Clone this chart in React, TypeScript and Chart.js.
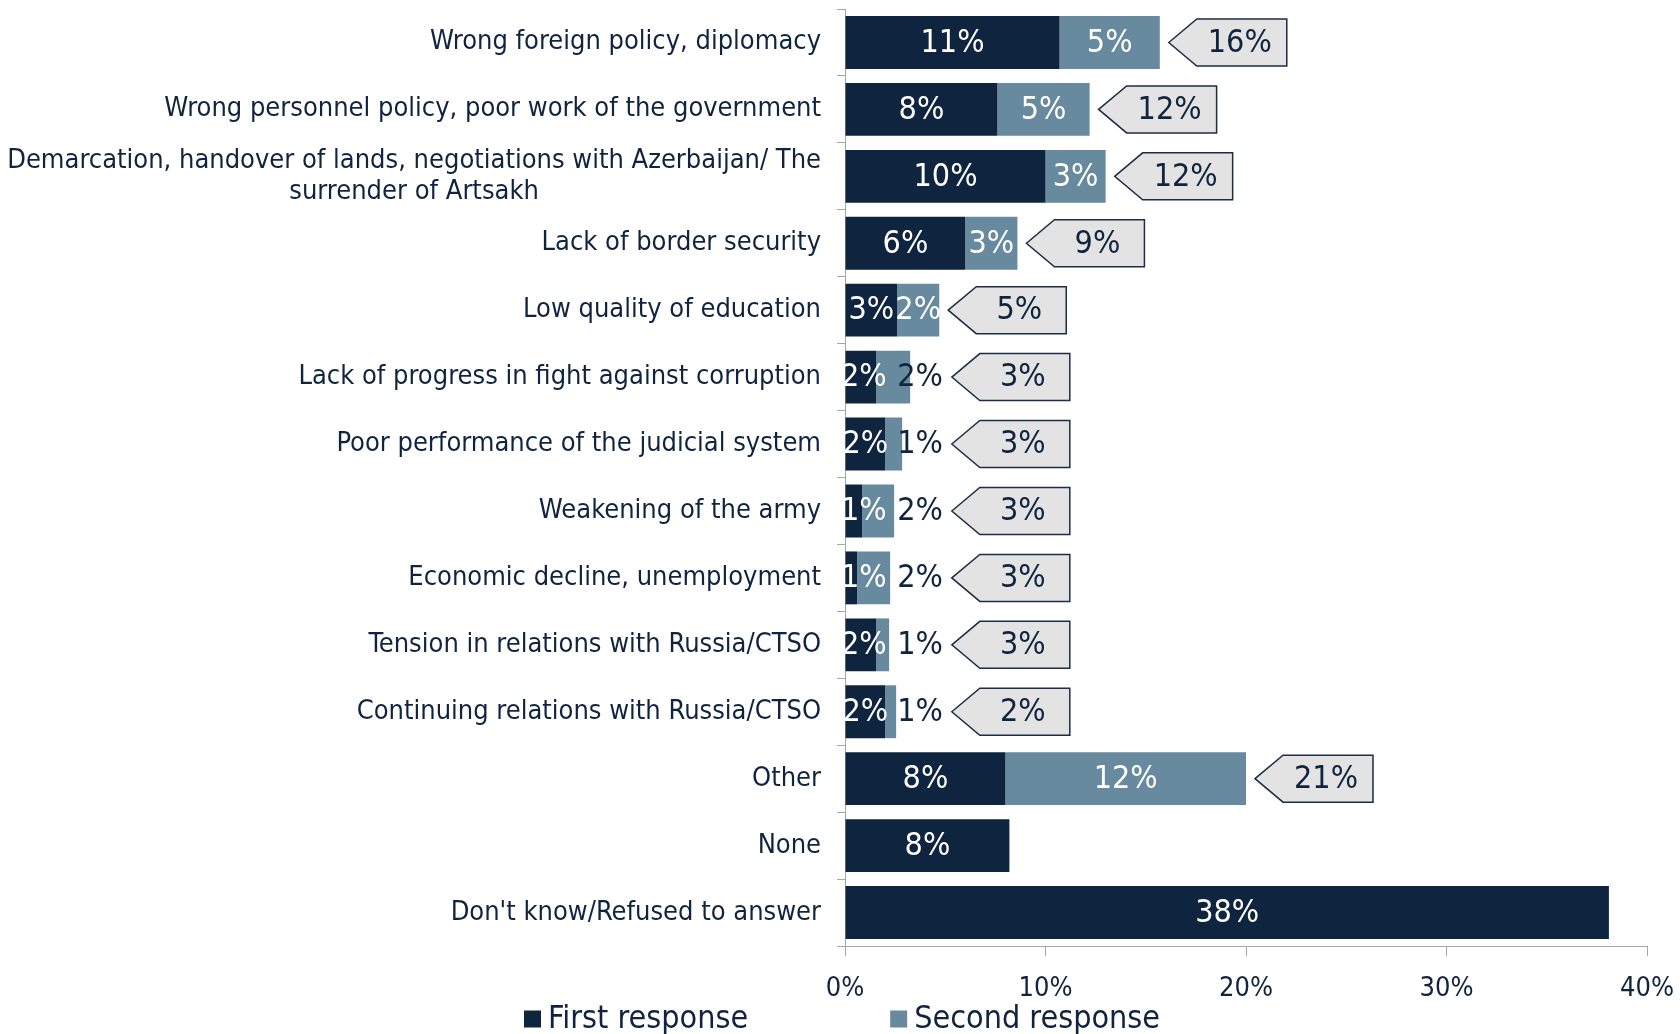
import React, { useEffect, useRef } from "react";
import { Chart, registerables } from "chart.js";

Chart.register(...registerables);

const categories: (string | string[])[] = [
  "Wrong foreign policy, diplomacy",
  "Wrong personnel policy, poor work of the government",
  ["Demarcation, handover of lands, negotiations with Azerbaijan/ The", "surrender of Artsakh"],
  "Lack of border security",
  "Low quality of education",
  "Lack of progress in fight against corruption",
  "Poor performance of the judicial system",
  "Weakening of the army",
  "Economic decline, unemployment",
  "Tension in relations with Russia/CTSO",
  "Continuing relations with Russia/CTSO",
  "Other",
  "None",
  "Don't know/Refused to answer",
];

const firstResponse = [10.7, 7.6, 10.0, 6.0, 2.6, 1.55, 2.0, 0.85, 0.6, 1.55, 2.0, 8.0, 8.2, 38.1];
const secondResponse = [5.0, 4.6, 3.0, 2.6, 2.1, 1.7, 0.85, 1.6, 1.65, 0.65, 0.55, 12.0, 0, 0];
const mentionedTotal: (number | null)[] = [16, 12, 12, 9, 5, 3, 3, 3, 3, 3, 2, 21, null, null];

const seriesNames = ["First response", "Second response"];
const axisMin = 0;
const axisMax = 40;
const axisStep = 10;

const FONT = '"DejaVu Sans Condensed", "DejaVu Sans", sans-serif';
const NAVY = "#0f243e";
const STEEL = "#678a9e";
const TEXT = "#10243f";
const AXIS = "#a6a6a6";

const pct = (v: number) => `${Math.round(v)}%`;

const overlayPlugin = {
  id: "overlay",
  afterDatasetsDraw(chart: any) {
    const ctx: CanvasRenderingContext2D = chart.ctx;
    const area = chart.chartArea;
    const xs = chart.scales.x;
    const m0 = chart.getDatasetMeta(0);
    const m1 = chart.getDatasetMeta(1);
    const outsideColumn = xs.getPixelForValue(2.6);
    ctx.save();
    ctx.textBaseline = "middle";
    categories.forEach((_, i) => {
      const b0 = m0.data[i];
      const b1 = m1.data[i];
      const y = b0.y;
      ctx.font = `32px ${FONT}`;
      // first response label
      const t0 = pct(firstResponse[i]);
      const w0 = ctx.measureText(t0).width;
      let cx = (b0.base + b0.x) / 2;
      if (cx - w0 / 2 < area.left - 4) cx = area.left - 4 + w0 / 2;
      ctx.textAlign = "center";
      ctx.fillStyle = "#ffffff";
      ctx.fillText(t0, cx, y + 1);
      let right = secondResponse[i] > 0 ? b1.x : b0.x;
      if (secondResponse[i] > 0) {
        const t1 = pct(secondResponse[i]);
        const w1 = ctx.measureText(t1).width;
        if (secondResponse[i] >= 2) {
          ctx.textAlign = "center";
          ctx.fillStyle = "#ffffff";
          ctx.fillText(t1, (b1.base + b1.x) / 2, y + 1);
        } else {
          const left = Math.max(outsideColumn, b1.x - 14);
          ctx.textAlign = "left";
          ctx.fillStyle = TEXT;
          ctx.fillText(t1, left, y + 1);
          right = Math.max(right, left + w1);
        }
      }
      // callout
      const tot = mentionedTotal[i];
      if (tot != null) {
        const tip = right + 9;
        const h = 47;
        const w = 118;
        const arrow = 28;
        ctx.beginPath();
        ctx.moveTo(tip, y);
        ctx.lineTo(tip + arrow, y - h / 2);
        ctx.lineTo(tip + w, y - h / 2);
        ctx.lineTo(tip + w, y + h / 2);
        ctx.lineTo(tip + arrow, y + h / 2);
        ctx.closePath();
        ctx.fillStyle = "#e3e3e3";
        ctx.fill();
        ctx.lineWidth = 1.5;
        ctx.strokeStyle = "#1c2d44";
        ctx.stroke();
        ctx.font = `32px ${FONT}`;
        ctx.fillStyle = TEXT;
        ctx.textAlign = "center";
        ctx.fillText(`${tot}%`, tip + arrow + (w - arrow) / 2 - 2, y + 1);
      }
    });
    ctx.restore();
  },
  afterDraw(chart: any) {
    const ctx: CanvasRenderingContext2D = chart.ctx;
    const area = chart.chartArea;
    const ys = chart.scales.y;
    ctx.save();
    // category labels
    ctx.font = `27px ${FONT}`;
    ctx.fillStyle = TEXT;
    ctx.textBaseline = "middle";
    const rightX = area.left - 24;
    const lh = 31;
    categories.forEach((lab, i) => {
      const y = ys.getPixelForValue(i);
      if (Array.isArray(lab)) {
        const bw = Math.max(...lab.map((l) => ctx.measureText(l).width));
        const c = rightX - bw / 2;
        ctx.textAlign = "center";
        lab.forEach((l, k) => {
          ctx.fillText(l, c, y + (k - (lab.length - 1) / 2) * lh);
        });
      } else {
        ctx.textAlign = "right";
        ctx.fillText(lab, rightX, y);
      }
    });
    // legend
    ctx.font = `32px ${FONT}`;
    const box = 17;
    const gapText = 7;
    const gapItem = 142;
    const colors = [NAVY, STEEL];
    const widths = seriesNames.map((n) => ctx.measureText(n).width);
    const total = widths.reduce((a, b) => a + b, 0) + seriesNames.length * (box + gapText) + gapItem * (seriesNames.length - 1);
    let x = chart.width / 2 - total / 2 + 2;
    const ly = 1019;
    ctx.textAlign = "left";
    seriesNames.forEach((n, k) => {
      ctx.fillStyle = colors[k];
      ctx.fillRect(x, ly - box / 2, box, box);
      x += box + gapText;
      ctx.fillStyle = TEXT;
      ctx.fillText(n, x, ly + 1);
      x += widths[k] + gapItem;
    });
    ctx.restore();
  },
};

export default function App() {
  const ref = useRef<HTMLCanvasElement | null>(null);
  useEffect(() => {
    if (!ref.current) return;
    const chart = new Chart(ref.current, {
      type: "bar",
      data: {
        labels: categories.map((c) => (Array.isArray(c) ? c.join(" ") : c)),
        datasets: [
          {
            label: seriesNames[0],
            data: firstResponse,
            backgroundColor: NAVY,
            borderWidth: 0,
            barPercentage: 0.79,
            categoryPercentage: 1,
          },
          {
            label: seriesNames[1],
            data: secondResponse,
            backgroundColor: STEEL,
            borderWidth: 0,
            barPercentage: 0.79,
            categoryPercentage: 1,
          },
        ],
      },
      options: {
        indexAxis: "y",
        responsive: false,
        maintainAspectRatio: false,
        animation: false,
        layout: { padding: { top: 9, right: 33, left: 0, bottom: 0 } },
        plugins: {
          legend: { display: false },
          tooltip: { enabled: false },
        },
        scales: {
          x: {
            stacked: true,
            min: axisMin,
            max: axisMax,
            ticks: {
              stepSize: axisStep,
              callback: (v: any) => `${v}%`,
              color: TEXT,
              font: { family: FONT, size: 27 },
              padding: 17,
              maxRotation: 0,
            },
            grid: { drawOnChartArea: false, drawTicks: true, tickLength: 10, color: AXIS },
            border: { color: AXIS, width: 1 },
            afterFit: (s: any) => {
              s.height = 88;
              s.paddingLeft = 0;
              s.paddingRight = 0;
            },
          },
          y: {
            stacked: true,
            ticks: { display: false },
            grid: { drawOnChartArea: false, drawTicks: true, tickLength: 8, color: AXIS, offset: true },
            border: { color: AXIS, width: 1 },
            afterFit: (s: any) => {
              s.width = 845;
              s.paddingTop = 0;
              s.paddingBottom = 0;
            },
          },
        },
      },
      plugins: [overlayPlugin],
    } as any);
    return () => chart.destroy();
  }, []);
  return (
    <div style={{ position: "fixed", left: 0, top: 0, width: 1680, height: 1034, background: "#fff" }}>
      <canvas ref={ref} width={1680} height={1034} style={{ display: "block" }} />
    </div>
  );
}
